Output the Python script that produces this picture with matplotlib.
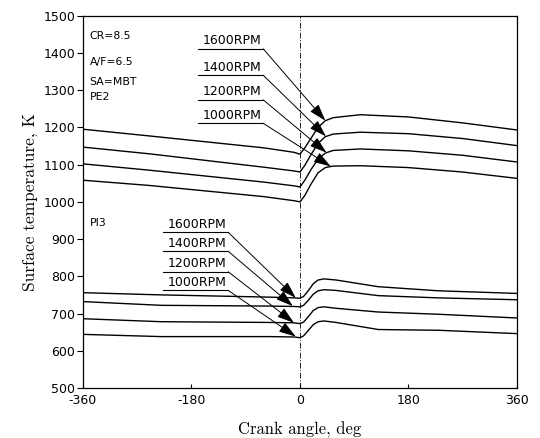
import numpy as np
import matplotlib
matplotlib.use("Agg")
import matplotlib.pyplot as plt

plt.rcParams['font.family'] = ['DejaVu Sans']
plt.rcParams['axes.unicode_minus'] = False

# Surface temperature vs crank angle, two surfaces, four engine speeds
speeds = ['1600RPM', '1400RPM', '1200RPM', '1000RPM']

# PE2 surface
ca_pe2 = np.array([-360, -250, -60, -10, 0, 8, 18, 30, 42, 55, 100, 180, 270, 360])
T_pe2 = {
    '1600RPM': [1195, 1177, 1145, 1133, 1128, 1145, 1170, 1200, 1218, 1226, 1234, 1228, 1212, 1193],
    '1400RPM': [1147, 1129, 1093, 1083, 1080, 1098, 1126, 1157, 1175, 1182, 1187, 1183, 1170, 1151],
    '1200RPM': [1102, 1085, 1053, 1043, 1040, 1058, 1086, 1115, 1131, 1138, 1142, 1137, 1125, 1107],
    '1000RPM': [1058, 1044, 1014, 1003, 1000, 1017, 1047, 1078, 1092, 1096, 1097, 1092, 1080, 1063],
}

# PI3 surface
ca_pi3 = np.array([-360, -230, -50, -10, 0, 6, 14, 22, 30, 40, 60, 130, 230, 360])
T_pi3 = {
    '1600RPM': [756, 750, 744, 742, 741, 746, 762, 780, 790, 793, 790, 772, 761, 754],
    '1400RPM': [732, 722, 720, 719, 718, 722, 736, 752, 761, 764, 762, 748, 742, 737],
    '1200RPM': [686, 678, 676, 675, 673, 677, 692, 708, 716, 718, 714, 704, 698, 688],
    '1000RPM': [644, 638, 638, 637, 635, 640, 655, 670, 678, 680, 676, 657, 655, 646],
}

# label underline heights and arrow targets (deg, K)
pe2_label_y = [1411, 1340, 1274, 1211]
pe2_tips = [(42, 1218), (43, 1176), (44, 1132), (51, 1095)]
pi3_label_y = [918, 867, 812, 762]
pi3_tips = [(-7, 742), (-12, 720), (-10, 675), (-7, 638)]

conditions = ['CR=8.5', 'A/F=6.5', 'SA=MBT', 'PE2']
cond_y = [1446, 1376, 1322, 1282]

fig = plt.figure(figsize=(5.4, 4.38), dpi=100)
ax = fig.add_axes([0.1537, 0.1142, 0.8037, 0.8500])

for s in speeds:
    ax.plot(ca_pe2, T_pe2[s], color='k', lw=1.0)
    ax.plot(ca_pi3, T_pi3[s], color='k', lw=1.0)

ax.axvline(0, color='k', lw=0.6, ls=(0, (7, 2, 1, 2)))

arrow = dict(arrowstyle='-|>,head_length=0.75,head_width=0.24', mutation_scale=14,
             color='k', lw=0.7, shrinkA=0, shrinkB=0)

def speed_labels(x0, x1, ys, tips):
    for s, y, tip in zip(speeds, ys, tips):
        ax.plot([x0, x1], [y, y], color='k', lw=0.8)
        ax.text(x0 + 7, y + 4, s, fontsize=9, ha='left', va='bottom')
        ax.annotate('', xy=tip, xytext=(x1, y), arrowprops=arrow)

speed_labels(-169, -61, pe2_label_y, pe2_tips)
speed_labels(-227, -119, pi3_label_y, pi3_tips)

for txt, y in zip(conditions, cond_y):
    ax.text(-349, y, txt, fontsize=7.8, ha='left', va='center')
ax.text(-349, 944, 'PI3', fontsize=7.8, ha='left', va='center')

ax.set_xlim(-360, 360)
ax.set_ylim(500, 1500)
ax.set_xticks([-360, -180, 0, 180, 360])
ax.set_yticks(np.arange(500, 1501, 100))
ax.tick_params(axis='y', direction='out', length=4, width=0.8, labelsize=9, pad=1.5)
ax.tick_params(axis='x', direction='in', length=3, width=0.8, labelsize=9, pad=4)
for sp in ax.spines.values():
    sp.set_linewidth(0.9)

ax.set_xlabel('Crank angle, deg', family='cmr10', fontsize=12, labelpad=11)
ax.set_ylabel('Surface temperature, K', family='cmr10', fontsize=12.5, labelpad=4)

fig.savefig('out.png', dpi=100)
